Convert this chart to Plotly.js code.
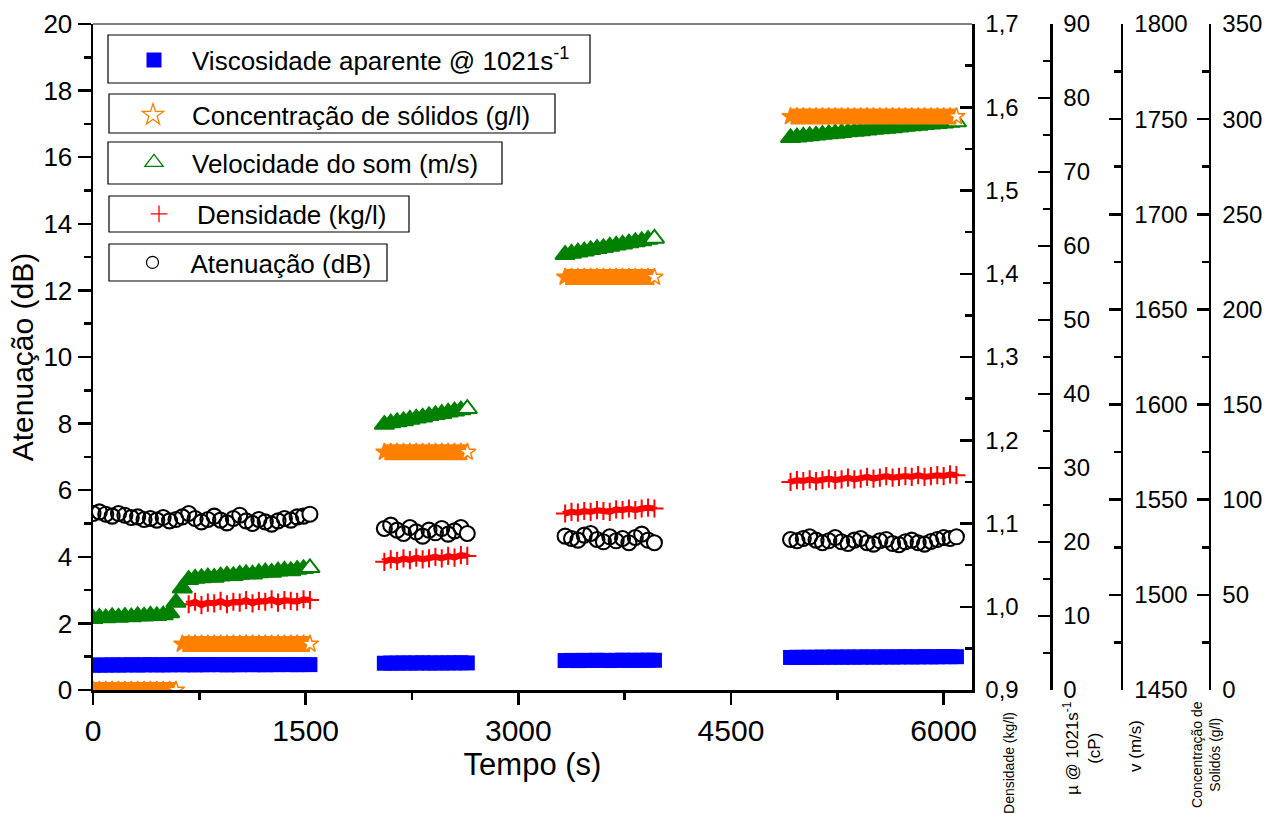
<!DOCTYPE html>
<html>
<head>
<meta charset="utf-8">
<script src="https://cdn.plot.ly/plotly-3.0.1.min.js"></script>
<style>html,body{margin:0;padding:0;background:#fff;}#chart{width:1270px;height:814px;}</style>
</head>
<body>
<div id="chart"></div>
<script>
// ---- Data ----
const tempo = [
  0,45,90,135,180,225,270,315,360,405,450,495,540,585,630,675,720,765,810,855,900,945,990,1035,1080,1125,1170,1215,1260,1305,1350,1395,1440,1485,1530,
  2055,2100,2145,2190,2235,2280,2325,2370,2415,2460,2505,2550,2595,2640,
  3330,3375,3420,3465,3510,3555,3600,3645,3690,3735,3780,3825,3870,3915,3960,
  4920,4965,5010,5055,5100,5145,5190,5235,5280,5325,5370,5415,5460,5505,5550,5595,5640,5685,5730,5775,5820,5865,5910,5955,6000,6045,6090
];
const viscosidade = [
  3.35,3.38,3.36,3.40,3.37,3.39,3.41,3.38,3.40,3.42,3.39,3.41,3.40,3.43,3.41,3.42,3.40,3.43,3.41,3.44,3.42,3.40,3.43,3.41,3.44,3.42,3.43,3.41,3.44,3.42,3.45,3.43,3.42,3.44,3.43,
  3.62,3.64,3.63,3.66,3.64,3.65,3.67,3.64,3.66,3.65,3.67,3.66,3.68,3.66,
  3.98,4.00,3.97,4.01,3.99,4.02,4.00,3.98,4.01,4.03,4.00,4.02,4.01,4.03,4.02,
  4.40,4.42,4.41,4.43,4.42,4.44,4.43,4.45,4.43,4.46,4.44,4.45,4.47,4.45,4.46,4.48,4.46,4.47,4.49,4.47,4.48,4.50,4.48,4.49,4.51,4.50,4.50
];
const concentracao = [
  0,0,0,0,0,0,0,0,0,0,0,0,0,0,24.2,24.2,24.2,24.2,24.2,24.2,24.2,24.2,24.2,24.2,24.2,24.2,24.2,24.2,24.2,24.2,24.2,24.2,24.2,24.2,24.2,
  125,125,125,125,125,125,125,125,125,125,125,125,125,125,
  217,217,217,217,217,217,217,217,217,217,217,217,217,217,217,
  301.4,301.4,301.4,301.4,301.4,301.4,301.4,301.4,301.4,301.4,301.4,301.4,301.4,301.4,301.4,301.4,301.4,301.4,301.4,301.4,301.4,301.4,301.4,301.4,301.4,301.4,301.4
];
const velocidade = [
  1487.5,1488.0,1487.8,1488.4,1488.1,1488.6,1488.3,1488.9,1488.7,1489.2,1489.0,1489.4,1490.5,1496.0,1503.5,1508.0,
  1508.6,1508.9,1509.3,1509.1,1509.8,1510.2,1510.0,1510.7,1511.0,1510.8,1511.5,1511.9,1511.7,1512.4,1512.8,1512.6,1513.3,1513.7,1514.2,
  1589.5,1590.3,1590.9,1591.4,1592.2,1592.8,1593.3,1594.1,1594.6,1595.2,1595.9,1596.5,1597.1,1597.8,
  1678.8,1679.4,1680.1,1680.6,1681.3,1681.9,1682.4,1683.1,1683.7,1684.2,1684.9,1685.5,1686.0,1686.7,1687.3,
  1740.2,1740.5,1740.9,1741.2,1741.5,1741.9,1742.2,1742.5,1742.8,1743.2,1743.5,1743.8,1744.1,1744.5,1744.8,1745.1,1745.4,1745.8,1746.1,1746.4,1746.7,1747.0,1747.3,1747.6,1747.9,1748.2,1748.5
];
const densidade = [
  null,null,null,null,null,null,null,null,null,null,null,null,null,null,null,
  1.003,1.006,1.002,1.005,1.004,1.007,1.003,1.006,1.005,1.008,1.004,1.007,1.006,1.009,1.005,1.008,1.007,1.006,1.009,1.008,
  1.054,1.057,1.055,1.058,1.056,1.059,1.057,1.058,1.060,1.058,1.061,1.059,1.062,1.061,
  1.112,1.114,1.113,1.115,1.114,1.116,1.115,1.114,1.117,1.116,1.118,1.116,1.118,1.119,1.118,
  1.150,1.152,1.151,1.153,1.151,1.152,1.154,1.152,1.153,1.155,1.153,1.154,1.156,1.154,1.155,1.157,1.155,1.156,1.157,1.156,1.158,1.156,1.157,1.158,1.157,1.159,1.158
];
const atenuacao = [
  5.30,5.35,5.28,5.22,5.30,5.25,5.18,5.20,5.12,5.15,5.10,5.18,5.08,5.12,5.20,5.30,5.15,5.05,5.12,5.22,5.10,5.02,5.15,5.25,5.08,5.00,5.12,5.05,4.98,5.08,5.15,5.10,5.20,5.22,5.28,
  4.85,4.95,4.80,4.70,4.88,4.75,4.62,4.80,4.72,4.85,4.68,4.78,4.88,4.70,
  4.62,4.55,4.50,4.65,4.70,4.52,4.45,4.60,4.48,4.55,4.42,4.58,4.68,4.50,4.42,
  4.52,4.48,4.55,4.60,4.50,4.42,4.48,4.58,4.45,4.40,4.50,4.55,4.42,4.38,4.48,4.52,4.40,4.36,4.45,4.50,4.42,4.38,4.46,4.52,4.58,4.55,4.60
];
const nomes = {
  visc: 'Viscosidade aparente @ 1021s<sup>-1</sup>',
  conc: 'Concentração de sólidos (g/l)',
  vel: 'Velocidade do som (m/s)',
  dens: 'Densidade (kg/l)',
  aten: 'Atenuação (dB)'
};

// ---- Styling helpers ----
const FONT = 'Arial, "Liberation Sans", sans-serif';
function isRunEnd(ys, i, span) {
  const v = ys[i], nv = ys[i + 1];
  return (i === ys.length - 1) || nv === null || nv === undefined ||
         (tempo[i + 1] - tempo[i] > 100) || Math.abs(nv - v) > 0.05 * span;
}
// last point of every run drawn with a white face (like the reference)
function faceColors(ys, color, span) {
  return ys.map((v, i) => isRunEnd(ys, i, span) ? 'white' : color);
}
// same data with breaks between runs, for the dense "band" look
function broken(ys, span) {
  const bx = [], by = [];
  ys.forEach((v, i) => {
    bx.push(tempo[i]); by.push(v);
    if (v !== null && isRunEnd(ys, i, span)) { bx.push(null); by.push(null); }
  });
  return { x: bx, y: by };
}
const ORANGE = '#ff8000', GREEN = '#008000', BLUE = '#0000ff', RED = '#ff0000';

const concB = broken(concentracao, 350);
const densB = broken(densidade, 0.8);

const traces = [
  { x: tempo, y: atenuacao, yaxis: 'y', type: 'scatter', mode: 'markers', showlegend: false, hoverinfo: 'skip',
    marker: { symbol: 'circle', size: 15, color: faceColors(atenuacao, 'rgba(255,255,255,0)', 20), line: { color: 'black', width: 2.1 } } },
  { x: densB.x, y: densB.y, yaxis: 'y2', type: 'scatter', mode: 'lines', showlegend: false, hoverinfo: 'skip',
    connectgaps: false, line: { color: RED, width: 6 } },
  { x: tempo, y: densidade, yaxis: 'y2', type: 'scatter', mode: 'markers', showlegend: false, hoverinfo: 'skip',
    marker: { symbol: 'cross-thin', size: 13, line: { color: RED, width: 2 } } },
  { x: tempo, y: viscosidade, yaxis: 'y3', type: 'scatter', mode: 'markers', showlegend: false, hoverinfo: 'skip',
    marker: { symbol: 'square', size: 15, color: BLUE, line: { width: 0 } } },
  { x: tempo, y: velocidade, yaxis: 'y4', type: 'scatter', mode: 'markers', showlegend: false, hoverinfo: 'skip',
    marker: { symbol: 'triangle-up', size: 17, color: faceColors(velocidade, GREEN, 350), line: { color: GREEN, width: 2 } } },
  { x: concB.x, y: concB.y, yaxis: 'y5', type: 'scatter', mode: 'lines', showlegend: false, hoverinfo: 'skip',
    connectgaps: false, line: { color: ORANGE, width: 16 } },
  { x: tempo, y: concentracao, yaxis: 'y5', type: 'scatter', mode: 'markers', showlegend: false, hoverinfo: 'skip',
    marker: { symbol: 'star', size: 13, color: faceColors(concentracao, ORANGE, 350), line: { color: ORANGE, width: 1.5 } } },
  // legend entries
  { x: [null], y: [null], name: nomes.visc, legend: 'legend', mode: 'markers', marker: { symbol: 'square', size: 15, color: BLUE } },
  { x: [null], y: [null], name: nomes.conc, legend: 'legend2', mode: 'markers', marker: { symbol: 'star', size: 16, color: 'white', line: { color: ORANGE, width: 1.3 } } },
  { x: [null], y: [null], name: nomes.vel, legend: 'legend3', mode: 'markers', marker: { symbol: 'triangle-up', size: 16, color: 'white', line: { color: GREEN, width: 1.3 } } },
  { x: [null], y: [null], name: nomes.dens, legend: 'legend4', mode: 'markers', marker: { symbol: 'cross-thin', size: 12, line: { color: RED, width: 1.3 } } },
  { x: [null], y: [null], name: nomes.aten, legend: 'legend5', mode: 'markers', marker: { symbol: 'circle', size: 12, color: 'white', line: { color: 'black', width: 1.2 } } }
];

const XDOM = 0.7731;
function rightAxis(range, dtick, mdtick, pos, fmt) {
  const a = {
    overlaying: 'y', side: 'right', range: range, dtick: dtick, tick0: range[0],
    showgrid: false, zeroline: false, showline: true, linecolor: 'black', linewidth: 2.5,
    ticks: 'inside', ticklen: 12, tickwidth: 2.5, tickcolor: 'black', ticklabelstandoff: 6,
    minor: { ticks: 'inside', ticklen: 7, tickwidth: 2.5, tickcolor: 'black', dtick: mdtick, tick0: range[0] },
    tickfont: { family: FONT, size: 24, color: 'black' }, fixedrange: true
  };
  if (pos === null) { a.anchor = 'x'; } else { a.anchor = 'free'; a.position = pos; }
  if (fmt) a.tickformat = fmt;
  return a;
}
function legendAt(x, y, w) {
  return { x: x, y: y, xref: 'paper', yref: 'paper', xanchor: 'left', yanchor: 'middle',
    bgcolor: 'rgba(0,0,0,0)', borderwidth: 0, itemwidth: w,
    font: { family: FONT, size: 26, color: 'black' } };
}
function box(x0, x1, y0, y1) {
  return { type: 'rect', xref: 'paper', yref: 'paper', x0: x0, x1: x1, y0: y0, y1: y1,
    line: { color: 'black', width: 1.2 }, fillcolor: 'white', layer: 'above' };
}

const layout = {
  width: 1270, height: 814,
  margin: { l: 93, r: 40, t: 24, b: 124 },
  paper_bgcolor: 'white', plot_bgcolor: 'white',
  separators: ',.',
  font: { family: FONT, color: 'black' },
  xaxis: {
    domain: [0, XDOM], range: [0, 6200], dtick: 1500, tick0: 0,
    showgrid: false, zeroline: false, showline: true, linecolor: 'black', linewidth: 2.5,
    ticks: 'outside', ticklen: 12, tickwidth: 2.5, tickcolor: 'black',
    minor: { ticks: 'outside', ticklen: 7, tickwidth: 2.5, tickcolor: 'black', dtick: 750 },
    tickfont: { family: FONT, size: 30, color: 'black' },
    title: { text: 'Tempo (s)', font: { family: FONT, size: 31, color: 'black' }, standoff: 8 },
    fixedrange: true
  },
  yaxis: {
    range: [0, 20], dtick: 2, tick0: 0,
    showgrid: false, zeroline: false, showline: true, linecolor: 'black', linewidth: 2.5,
    ticks: 'outside', ticklen: 13, tickwidth: 2.5, tickcolor: 'black',
    minor: { ticks: 'outside', ticklen: 7, tickwidth: 2.5, tickcolor: 'black', dtick: 1 },
    tickfont: { family: FONT, size: 26, color: 'black' },
    title: { text: 'Atenuação (dB)', font: { family: FONT, size: 30, color: 'black' }, standoff: 1 },
    fixedrange: true
  },
  yaxis2: rightAxis([0.9, 1.7], 0.1, 0.05, null, '.1f'),
  yaxis3: rightAxis([0, 90], 10, 5, 0.8426, null),
  yaxis4: rightAxis([1450, 1800], 50, 25, 0.905, null),
  yaxis5: rightAxis([0, 350], 50, 25, 0.9824, null),
  legend: legendAt(0.02023, 0.9459, 66),
  legend2: legendAt(0.01847, 0.86336, 68),
  legend3: legendAt(0.02023, 0.79204, 66),
  legend4: legendAt(0.02463, 0.71471, 66),
  legend5: legendAt(0.01891, 0.64189, 66),
  shapes: [
    { type: 'line', xref: 'paper', yref: 'paper', x0: 0, x1: XDOM, y0: 1, y1: 1, line: { color: 'black', width: 1 } },
    box(0.01319, 0.43712, 0.91141, 0.98348),
    box(0.01407, 0.40633, 0.83634, 0.89489),
    box(0.01319, 0.35972, 0.75976, 0.82282),
    box(0.01407, 0.27792, 0.68769, 0.74174),
    box(0.01407, 0.25858, 0.61411, 0.66967)
  ],
  annotations: [
    { text: 'Densidade (kg/l)', xref: 'paper', yref: 'paper', x: 0.8056, y: -0.1096, textangle: -90, showarrow: false,
      xanchor: 'center', yanchor: 'middle', font: { family: FONT, size: 14, color: 'black' } },
    { text: 'µ @ 1021s<sup>-1</sup><br>(cP)', xref: 'paper', yref: 'paper', x: 0.8698, y: -0.0871, textangle: -90, showarrow: false,
      xanchor: 'center', yanchor: 'middle', font: { family: FONT, size: 17, color: 'black' } },
    { text: 'v (m/s)', xref: 'paper', yref: 'paper', x: 0.9164, y: -0.0841, textangle: -90, showarrow: false,
      xanchor: 'center', yanchor: 'middle', font: { family: FONT, size: 17, color: 'black' } },
    { text: 'Concentração de<br>Solidós (g/l)', xref: 'paper', yref: 'paper', x: 0.9789, y: -0.0976, textangle: -90, showarrow: false,
      xanchor: 'center', yanchor: 'middle', font: { family: FONT, size: 14, color: 'black' } }
  ]
};

Plotly.newPlot('chart', traces, layout, { staticPlot: true, displayModeBar: false });
</script>
</body>
</html>
